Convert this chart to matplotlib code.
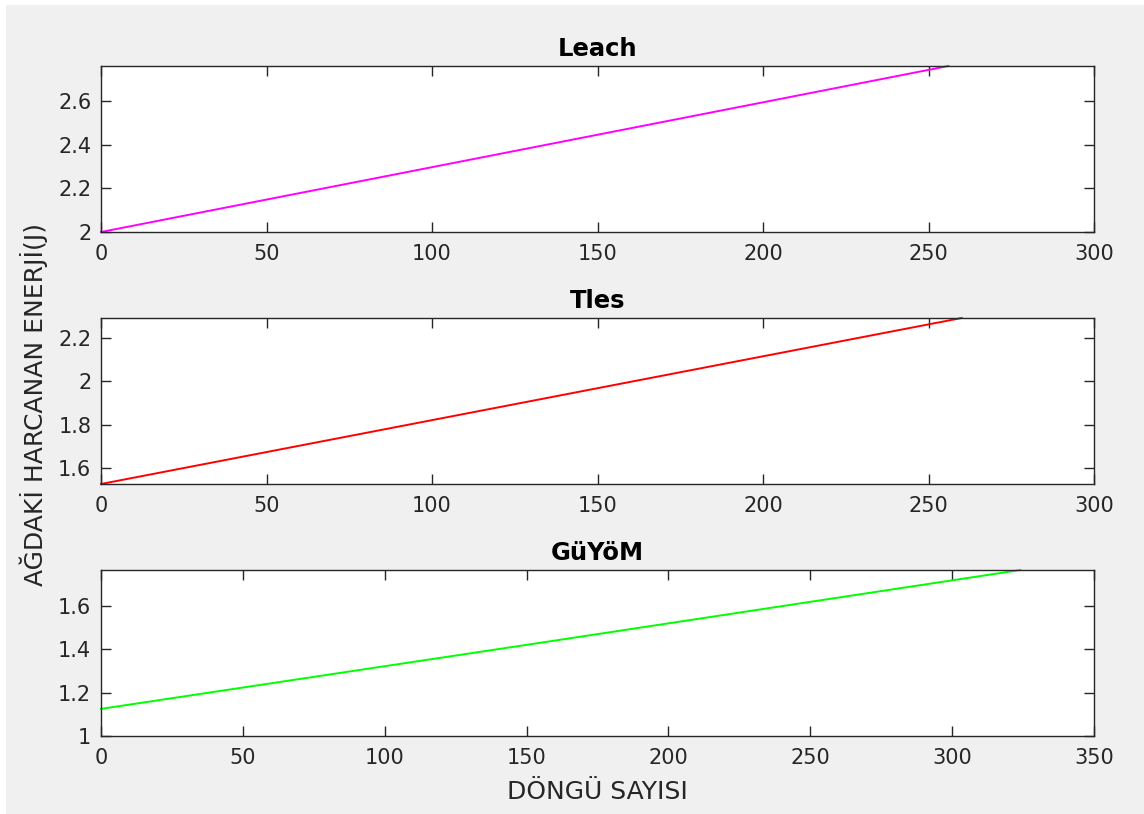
import matplotlib
matplotlib.use("Agg")
import matplotlib.pyplot as plt
from matplotlib.patches import Rectangle

plt.rcParams['font.family'] = ['DejaVu Sans']

# Data
titles = ["Leach", "Tles", "GüYöM"]
colors = ["#ff00ff", "#ff0000", "#00ff00"]
leach_x = [0, 150, 256]
leach_y = [2.0, 2.447, 2.763]
tles_x = [0, 150, 260]
tles_y = [1.526, 1.968, 2.292]
guyom_x = [0, 150, 324]
guyom_y = [1.125, 1.42, 1.765]
xs = [leach_x, tles_x, guyom_x]
ys = [leach_y, tles_y, guyom_y]
xlims = [(0, 300), (0, 300), (0, 350)]
ylims = [(2.0, 2.763), (1.526, 2.292), (1.0, 1.765)]
xticks = [[0, 50, 100, 150, 200, 250, 300],
          [0, 50, 100, 150, 200, 250, 300],
          [0, 50, 100, 150, 200, 250, 300, 350]]
yticks = [[2, 2.2, 2.4, 2.6], [1.6, 1.8, 2, 2.2], [1, 1.2, 1.4, 1.6]]
ytick_labels = [["2", "2.2", "2.4", "2.6"], ["1.6", "1.8", "2", "2.2"],
                ["1", "1.2", "1.4", "1.6"]]
xlabel = "DÖNGÜ SAYISI"
ylabel = "AĞDAKİ HARCANAN ENERJİ(J)"

W, H = 1144, 814
fig = plt.figure(figsize=(W / 100, H / 100), dpi=100, facecolor="white")
fig.patches.append(Rectangle((6 / W, 0), 1 - 6 / W, 1 - 5 / H, transform=fig.transFigure,
                             facecolor="#f0f0f0", edgecolor="none", zorder=-10))

left, right = 101 / W, 1094 / W
tops = [66, 318, 570]
bots = [232, 484, 736]
dark = "#262626"
for i in range(3):
    b = 1 - bots[i] / H
    t = 1 - tops[i] / H
    ax = fig.add_axes([left, b, right - left, t - b])
    ax.set_facecolor("white")
    ax.plot(xs[i], ys[i], color=colors[i], lw=1.4, clip_on=False)
    ax.set_xlim(*xlims[i])
    ax.set_ylim(*ylims[i])
    ax.set_xticks(xticks[i])
    ax.set_yticks(yticks[i])
    ax.set_yticklabels(ytick_labels[i])
    ax.tick_params(direction="in", length=7, width=1.0, colors=dark,
                   labelsize=15, top=True, right=True)
    ax.tick_params(axis="x", pad=9)
    ax.tick_params(axis="y", pad=7)
    for s in ax.spines.values():
        s.set_color(dark)
        s.set_linewidth(1.0)
    ax.set_title(titles[i], fontsize=17.5, fontweight="bold", color="black", pad=7)
    if i == 2:
        ax.set_xlabel(xlabel, fontsize=18, color=dark, labelpad=8)

fig.text(34 / W, 1 - 405 / H, ylabel, rotation=90, ha="center", va="center",
         fontsize=18, color=dark)

fig.savefig("out.png", dpi=100, facecolor=fig.get_facecolor())
